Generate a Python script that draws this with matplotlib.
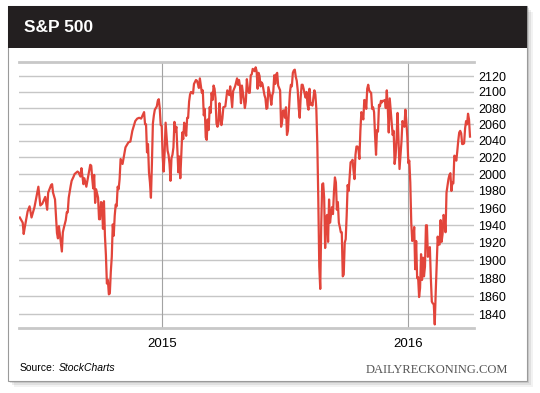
import numpy as np
import matplotlib
matplotlib.use("Agg")
import matplotlib.pyplot as plt
from matplotlib.patches import Rectangle
from matplotlib.ticker import FixedLocator, NullLocator, FixedFormatter

plt.rcParams['font.family'] = ['Liberation Sans', 'DejaVu Sans']

dates = [
    '2014-06-06', '2014-06-11', '2014-06-12', '2014-06-13', '2014-06-18', '2014-06-20', '2014-06-24', '2014-06-27',
    '2014-07-01', '2014-07-03', '2014-07-08', '2014-07-10', '2014-07-15', '2014-07-17', '2014-07-18', '2014-07-23',
    '2014-07-24', '2014-07-25', '2014-07-29', '2014-07-31', '2014-08-01', '2014-08-04', '2014-08-06', '2014-08-07',
    '2014-08-08', '2014-08-11', '2014-08-13', '2014-08-14', '2014-08-15', '2014-08-18', '2014-08-20', '2014-08-21',
    '2014-08-25', '2014-08-26', '2014-08-29', '2014-09-02', '2014-09-04', '2014-09-05', '2014-09-09', '2014-09-10',
    '2014-09-12', '2014-09-16', '2014-09-18', '2014-09-19', '2014-09-22', '2014-09-23', '2014-09-24', '2014-09-25',
    '2014-09-26', '2014-09-30', '2014-10-01', '2014-10-02', '2014-10-03', '2014-10-06', '2014-10-07', '2014-10-08',
    '2014-10-09', '2014-10-10', '2014-10-13', '2014-10-14', '2014-10-15', '2014-10-16', '2014-10-17', '2014-10-20',
    '2014-10-21', '2014-10-22', '2014-10-23', '2014-10-24', '2014-10-27', '2014-10-28', '2014-10-29', '2014-10-30',
    '2014-10-31', '2014-11-04', '2014-11-07', '2014-11-12', '2014-11-14', '2014-11-18', '2014-11-21', '2014-11-25',
    '2014-11-28', '2014-12-02', '2014-12-05', '2014-12-08', '2014-12-09', '2014-12-10', '2014-12-11', '2014-12-12',
    '2014-12-15', '2014-12-16', '2014-12-17', '2014-12-18', '2014-12-19', '2014-12-22', '2014-12-24', '2014-12-26',
    '2014-12-29', '2014-12-30', '2014-12-31',
    '2015-01-02', '2015-01-05', '2015-01-06', '2015-01-07', '2015-01-08', '2015-01-09', '2015-01-12', '2015-01-13',
    '2015-01-14', '2015-01-15', '2015-01-16', '2015-01-20', '2015-01-21', '2015-01-22', '2015-01-23', '2015-01-26',
    '2015-01-27', '2015-01-28', '2015-01-29', '2015-01-30', '2015-02-02', '2015-02-03', '2015-02-04', '2015-02-05',
    '2015-02-06', '2015-02-09', '2015-02-10', '2015-02-11', '2015-02-12', '2015-02-13', '2015-02-17', '2015-02-19',
    '2015-02-20', '2015-02-24', '2015-02-25', '2015-02-26', '2015-02-27', '2015-03-02', '2015-03-03', '2015-03-04',
    '2015-03-05', '2015-03-06', '2015-03-09', '2015-03-10', '2015-03-11', '2015-03-12', '2015-03-13', '2015-03-16',
    '2015-03-17', '2015-03-18', '2015-03-19', '2015-03-20', '2015-03-23', '2015-03-24', '2015-03-25', '2015-03-26',
    '2015-03-27', '2015-03-30', '2015-03-31', '2015-04-01', '2015-04-02', '2015-04-06', '2015-04-08', '2015-04-10',
    '2015-04-14', '2015-04-15', '2015-04-17', '2015-04-20', '2015-04-22', '2015-04-24', '2015-04-27', '2015-04-28',
    '2015-04-29', '2015-04-30', '2015-05-01', '2015-05-05', '2015-05-06', '2015-05-07', '2015-05-08', '2015-05-11',
    '2015-05-12', '2015-05-13', '2015-05-14', '2015-05-15', '2015-05-18', '2015-05-19', '2015-05-20', '2015-05-21',
    '2015-05-22', '2015-05-26', '2015-05-27', '2015-05-28', '2015-05-29', '2015-06-01', '2015-06-02', '2015-06-04',
    '2015-06-05', '2015-06-08', '2015-06-09', '2015-06-10', '2015-06-12', '2015-06-15', '2015-06-16', '2015-06-17',
    '2015-06-18', '2015-06-19', '2015-06-22', '2015-06-23', '2015-06-24', '2015-06-26', '2015-06-29', '2015-06-30',
    '2015-07-01', '2015-07-02', '2015-07-06', '2015-07-07', '2015-07-08', '2015-07-09', '2015-07-10', '2015-07-13',
    '2015-07-14', '2015-07-15', '2015-07-16', '2015-07-17', '2015-07-20', '2015-07-21', '2015-07-22', '2015-07-23',
    '2015-07-24', '2015-07-27', '2015-07-28', '2015-07-29', '2015-07-30', '2015-07-31', '2015-08-03', '2015-08-04',
    '2015-08-05', '2015-08-06', '2015-08-07', '2015-08-10', '2015-08-11', '2015-08-12', '2015-08-13', '2015-08-14',
    '2015-08-17', '2015-08-18', '2015-08-19', '2015-08-20', '2015-08-21', '2015-08-24', '2015-08-25', '2015-08-26',
    '2015-08-27', '2015-08-28', '2015-08-31', '2015-09-01', '2015-09-02', '2015-09-03', '2015-09-04', '2015-09-08',
    '2015-09-09', '2015-09-10', '2015-09-11', '2015-09-14', '2015-09-15', '2015-09-16', '2015-09-17', '2015-09-18',
    '2015-09-21', '2015-09-22', '2015-09-23', '2015-09-24', '2015-09-25', '2015-09-28', '2015-09-29', '2015-09-30',
    '2015-10-01', '2015-10-02', '2015-10-05', '2015-10-06', '2015-10-07', '2015-10-08', '2015-10-09', '2015-10-12',
    '2015-10-13', '2015-10-14', '2015-10-15', '2015-10-16', '2015-10-19', '2015-10-20', '2015-10-21', '2015-10-22',
    '2015-10-23', '2015-10-26', '2015-10-27', '2015-10-28', '2015-10-29', '2015-10-30', '2015-11-02', '2015-11-03',
    '2015-11-04', '2015-11-05', '2015-11-06', '2015-11-09', '2015-11-10', '2015-11-11', '2015-11-12', '2015-11-13',
    '2015-11-16', '2015-11-17', '2015-11-18', '2015-11-19', '2015-11-20', '2015-11-23', '2015-11-24', '2015-11-25',
    '2015-11-27', '2015-11-30', '2015-12-01', '2015-12-02', '2015-12-03', '2015-12-04', '2015-12-07', '2015-12-08',
    '2015-12-09', '2015-12-10', '2015-12-11', '2015-12-14', '2015-12-15', '2015-12-16', '2015-12-17', '2015-12-18',
    '2015-12-21', '2015-12-22', '2015-12-23', '2015-12-24', '2015-12-28', '2015-12-29', '2015-12-30', '2015-12-31',
    '2016-01-04', '2016-01-05', '2016-01-06', '2016-01-07', '2016-01-08', '2016-01-11', '2016-01-12', '2016-01-13',
    '2016-01-14', '2016-01-15', '2016-01-19', '2016-01-20', '2016-01-21', '2016-01-22', '2016-01-25', '2016-01-26',
    '2016-01-27', '2016-01-28', '2016-01-29', '2016-02-01', '2016-02-02', '2016-02-03', '2016-02-04', '2016-02-05',
    '2016-02-08', '2016-02-09', '2016-02-10', '2016-02-11', '2016-02-12', '2016-02-16', '2016-02-17', '2016-02-18',
    '2016-02-19', '2016-02-22', '2016-02-23', '2016-02-24', '2016-02-25', '2016-02-26', '2016-02-29', '2016-03-01',
    '2016-03-02', '2016-03-03', '2016-03-04', '2016-03-07', '2016-03-08', '2016-03-09', '2016-03-10', '2016-03-11',
    '2016-03-14', '2016-03-15', '2016-03-16', '2016-03-17', '2016-03-18', '2016-03-21', '2016-03-22', '2016-03-23',
    '2016-03-24', '2016-03-28', '2016-03-29', '2016-03-30', '2016-03-31', '2016-04-01', '2016-04-04', '2016-04-05',
]
closes = [
    1949, 1943, 1930, 1937, 1956, 1962, 1949, 1961,
    1973, 1985, 1963, 1965, 1973, 1958, 1978, 1987,
    1988, 1978, 1970, 1931, 1925, 1939, 1920, 1910,
    1932, 1937, 1946, 1955, 1955, 1972, 1986, 1992,
    1997, 2000, 2003, 2002, 1997, 2007, 1988, 1995,
    1985, 1998, 2011, 2010, 1995, 1983, 1999, 1966,
    1982, 1972, 1947, 1947, 1967, 1965, 1936, 1968,
    1928, 1906, 1874, 1878, 1862, 1863, 1887, 1904,
    1941, 1928, 1951, 1964, 1962, 1985, 1982, 1994,
    2018, 2012, 2032, 2038, 2039, 2052, 2064, 2067,
    2068, 2067, 2075, 2060, 2060, 2026, 2036, 2002,
    1990, 1972, 2012, 2061, 2071, 2078, 2082, 2089,
    2091, 2080, 2059,
    2058, 2021, 2003, 2026, 2062, 2045, 2028, 2023,
    2012, 1992, 2019, 2023, 2032, 2063, 2051, 2057,
    2029, 2002, 2021, 1995, 2021, 2050, 2042, 2062,
    2055, 2046, 2068, 2068, 2088, 2097, 2100, 2098,
    2110, 2115, 2114, 2110, 2105, 2117, 2108, 2099,
    2102, 2071, 2079, 2044, 2041, 2066, 2053, 2081,
    2074, 2099, 2090, 2108, 2104, 2092, 2061, 2057,
    2061, 2086, 2068, 2059, 2067, 2081, 2082, 2102,
    2096, 2107, 2081, 2101, 2107, 2117, 2109, 2115,
    2107, 2086, 2108, 2090, 2080, 2088, 2116, 2105,
    2099, 2099, 2121, 2122, 2129, 2128, 2126, 2131,
    2126, 2104, 2124, 2120, 2107, 2112, 2110, 2096,
    2092, 2079, 2080, 2106, 2094, 2084, 2096, 2100,
    2121, 2110, 2122, 2124, 2108, 2102, 2057, 2063,
    2077, 2077, 2068, 2081, 2047, 2052, 2077, 2099,
    2109, 2107, 2124, 2127, 2128, 2119, 2114, 2102,
    2080, 2068, 2093, 2109, 2109, 2104, 2098, 2093,
    2100, 2084, 2078, 2104, 2084, 2086, 2083, 2092,
    2102, 2097, 2079, 2036, 1971, 1893, 1868, 1940,
    1988, 1989, 1972, 1914, 1949, 1952, 1921, 1970,
    1943, 1953, 1961, 1953, 1979, 1996, 1990, 1958,
    1967, 1943, 1938, 1932, 1932, 1882, 1884, 1920,
    1924, 1951, 1987, 1980, 1996, 2014, 2015, 2017,
    2004, 1994, 2023, 2033, 2033, 2030, 2018, 2052,
    2075, 2072, 2066, 2090, 2089, 2079, 2104, 2109,
    2102, 2100, 2099, 2079, 2081, 2075, 2046, 2023,
    2053, 2051, 2084, 2082, 2089, 2087, 2089, 2089,
    2090, 2080, 2102, 2080, 2050, 2092, 2077, 2063,
    2047, 2052, 2012, 2022, 2043, 2074, 2041, 2006,
    2022, 2039, 2064, 2061, 2057, 2078, 2063, 2044,
    2013, 2016, 1990, 1943, 1922, 1924, 1938, 1890,
    1922, 1880, 1881, 1859, 1869, 1907, 1878, 1903,
    1882, 1893, 1940, 1940, 1904, 1913, 1915, 1880,
    1854, 1852, 1851, 1829, 1865, 1896, 1927, 1918,
    1918, 1946, 1921, 1930, 1952, 1948, 1932, 1978,
    1986, 1994, 1999, 2001, 1980, 1990, 1989, 2022,
    2020, 2016, 2027, 2040, 2050, 2052, 2049, 2036,
    2036, 2037, 2055, 2064, 2060, 2073, 2066, 2045,
]

# market holidays, the x axis counts trading days only
holidays = [
    '2014-07-04', '2014-09-01', '2014-11-27', '2014-12-25',
    '2015-01-01', '2015-01-19', '2015-02-16', '2015-04-03', '2015-05-25', '2015-07-03',
    '2015-09-07', '2015-11-26', '2015-12-25',
    '2016-01-01', '2016-01-18', '2016-02-15', '2016-03-25',
]
year_starts = ['2015-01-02', '2016-01-04']
year_labels = ['2015', '2016']
y_ticks = [1840, 1860, 1880, 1900, 1920, 1940, 1960, 1980, 2000, 2020, 2040, 2060, 2080, 2100, 2120]

start = dates[0]
x = np.busday_count(start, dates, holidays=holidays)
x_years = np.busday_count(start, year_starts, holidays=holidays)

W, H = 540, 393
fig = plt.figure(figsize=(W / 100, H / 100), dpi=100)


def fig_rect(x0, y0, x1, y1, **kw):
    # pixel box (top-left origin) -> figure rectangle
    r = Rectangle((x0 / W, 1 - y1 / H), (x1 - x0) / W, (y1 - y0) / H,
                  transform=fig.transFigure, **kw)
    fig.add_artist(r)
    return r


# drop shadow + card + title bar
for off, a in [(6, 0.05), (4, 0.07), (2, 0.10)]:
    fig_rect(7.5 + off, 6 + off, 527 + off, 381 + off, facecolor='black', edgecolor='none', alpha=a, zorder=-10)
fig_rect(7.5, 6, 527, 381, facecolor='white', edgecolor='#9a9a9a', lw=0.8, zorder=-9)
fig_rect(7.5, 6, 527, 47.5, facecolor='#231f20', edgecolor='none', zorder=-8)
fig.text(23.5 / W, 1 - 27 / H, 'S&P 500', color='white', fontsize=12.5, fontweight='bold',
         ha='left', va='center')

ax = fig.add_axes([19 / W, 1 - 328.3 / H, (474 - 19) / W, (328.3 - 61.7) / H])
ax.set_facecolor('none')
ax.plot(x, closes, color='#e2453b', lw=1.6, solid_joinstyle='round', zorder=3)

ax.set_yscale('log')
ax.set_ylim(1824.8, 2138.1)
ax.set_xlim(-0.8, 464.1)
ax.yaxis.set_major_locator(FixedLocator(y_ticks))
ax.yaxis.set_major_formatter(FixedFormatter([str(v) for v in y_ticks]))
ax.yaxis.set_minor_locator(NullLocator())
ax.yaxis.tick_right()
ax.set_xticks(x_years)
ax.set_xticklabels(year_labels)
ax.tick_params(axis='y', length=0, pad=3, labelsize=9, labelcolor='black')
ax.tick_params(axis='x', length=0, pad=7, labelsize=9.5, labelcolor='black')

for v in y_ticks:
    ax.axhline(v, color='#c6c6c6', lw=1.0, zorder=1)
for xv in x_years:
    ax.axvline(xv, color='#a3a3a3', lw=0.8, zorder=1)

for side in ['left', 'right']:
    ax.spines[side].set_visible(False)
for side in ['top', 'bottom']:
    ax.spines[side].set_color('#c8c8c8')
    ax.spines[side].set_linewidth(2)

src = fig.text(20 / W, 1 - 371 / H, 'Source:', fontsize=7.5, ha='left', va='baseline')
fig.canvas.draw()
ax.annotate('StockCharts', xy=(1, 0), xycoords=src, xytext=(2.2, 0), textcoords='offset points',
            fontsize=7.5, style='italic', ha='left', va='bottom', annotation_clip=False)
fig.text(508 / W, 1 - 370 / H, 'DAILYRECKONING.COM', fontsize=9, color='#555555',
         family=['Liberation Serif', 'DejaVu Serif'], ha='right', va='center')

fig.savefig('out.png', dpi=100)
